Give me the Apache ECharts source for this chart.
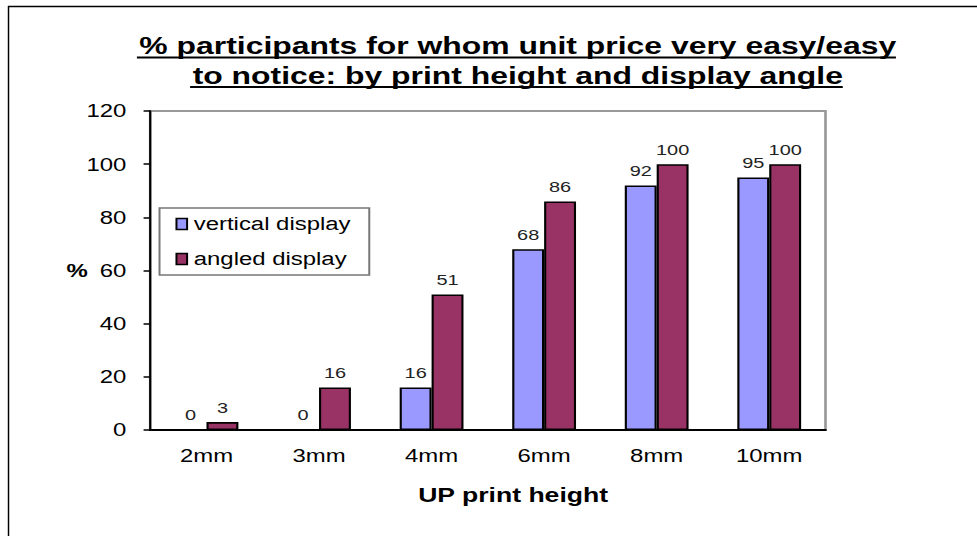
<!DOCTYPE html>
<html lang="en">
<head>
  <meta charset="utf-8">
  <title>Unit price noticeability</title>
  <script src="https://cdn.jsdelivr.net/npm/echarts@6/dist/echarts.min.js"></script>
  <style>
    html, body { margin: 0; padding: 0; background: #fff; overflow: hidden; }
    /* the original picture is stretched sideways, so the chart is drawn
       narrower and widened to 977px */
    #chart {
      width: 735px;
      height: 536px;
      transform: scaleX(1.3293);
      transform-origin: 0 0;
    }
  </style>
</head>
<body>
  <div id="chart"></div>
  <script>
    // data
    var heights = ['2mm', '3mm', '4mm', '6mm', '8mm', '10mm'];
    var verticalDisplay = [0, 0, 16, 68, 92, 95];
    var angledDisplay = [3, 16, 51, 86, 100, 100];
    var seriesNames = ['vertical display', 'angled display'];

    var font = 'Liberation Sans, Arial, sans-serif';
    var chart = echarts.init(document.getElementById('chart'), null, { renderer: 'svg' });

    var labelStyle = {
      show: true,
      position: 'top',
      distance: 7,
      color: '#222',
      fontSize: 15,
      fontFamily: font
    };

    var option = {
      backgroundColor: '#fff',
      animation: false,
      title: {
        text: '% participants for whom unit price very easy/easy\nto notice: by print height and display angle',
        left: 384.5,
        top: 26,
        textAlign: 'center',
        textStyle: {
          fontSize: 24,
          fontWeight: 'bold',
          fontFamily: font,
          color: '#000',
          lineHeight: 30
        }
      },
      legend: {
        orient: 'vertical',
        left: 120,
        top: 208,
        data: seriesNames,
        icon: 'rect',
        itemWidth: 8,
        itemHeight: 11,
        itemGap: 17,
        itemStyle: { borderWidth: 1.5 },
        padding: [7, 14, 7, 12],
        borderColor: '#777',
        borderWidth: 1.5,
        textStyle: { fontSize: 18, fontFamily: font, color: '#000' }
      },
      grid: {
        left: 113,
        right: 114,
        top: 111,
        bottom: 106,
        show: true,
        borderColor: '#999',
        borderWidth: 2
      },
      xAxis: {
        type: 'category',
        data: heights,
        name: 'UP print height',
        nameLocation: 'middle',
        nameGap: 55,
        nameMoveOverlap: false,
        nameTextStyle: { fontSize: 20, fontWeight: 'bold', fontFamily: font, color: '#000', padding: [0, 0, 0, 38] },
        axisLine: { lineStyle: { color: '#000', width: 2 } },
        axisTick: { length: 6, lineStyle: { color: '#000', width: 1.2 } },
        axisLabel: { fontSize: 18, fontFamily: font, color: '#000', margin: 17 }
      },
      yAxis: {
        type: 'value',
        min: 0,
        max: 120,
        interval: 20,
        name: '%',
        nameLocation: 'middle',
        nameRotate: 0,
        nameGap: 47,
        nameMoveOverlap: false,
        nameTextStyle: { fontSize: 18, fontWeight: 'bold', fontFamily: font, color: '#000' },
        axisLine: { show: true, lineStyle: { color: '#000', width: 1.6 } },
        axisTick: { show: true, length: 5, lineStyle: { color: '#000', width: 1.5 } },
        axisLabel: { fontSize: 18, fontFamily: font, color: '#000', margin: 18 },
        splitLine: { show: false }
      },
      series: [
        {
          name: seriesNames[0],
          type: 'bar',
          data: verticalDisplay,
          barWidth: 24,
          barGap: '0%',
          itemStyle: { color: '#9999FF', borderColor: '#000', borderWidth: 1.6 },
          label: labelStyle
        },
        {
          name: seriesNames[1],
          type: 'bar',
          data: angledDisplay,
          barWidth: 24,
          barGap: '0%',
          itemStyle: { color: '#993366', borderColor: '#000', borderWidth: 1.6 },
          label: labelStyle
        }
      ],
      graphic: [
        // frame of the original picture (left and top edges)
        { type: 'line', shape: { x1: 6.4, y1: 6, x2: 6.4, y2: 536 }, style: { stroke: '#000', lineWidth: 1.1 } },
        { type: 'line', shape: { x1: 6, y1: 6.5, x2: 735, y2: 6.5 }, style: { stroke: '#000', lineWidth: 1.5 } },
        // title underlines
        { type: 'line', shape: { x1: 103, y1: 57.5, x2: 674, y2: 57.5 }, style: { stroke: '#000', lineWidth: 2 } },
        { type: 'line', shape: { x1: 143, y1: 87, x2: 634, y2: 87 }, style: { stroke: '#000', lineWidth: 2 } }
      ]
    };

    chart.setOption(option);
  </script>
</body>
</html>
